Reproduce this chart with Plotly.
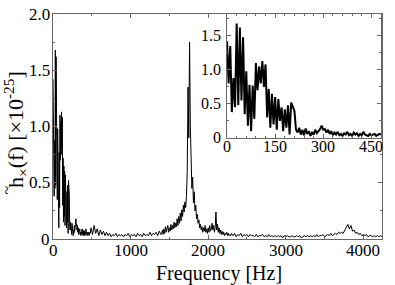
import plotly.graph_objects as go

# ---- inset spectrum, 0-480 Hz (5 Hz bins) ----
inset_freq = [i * 5 for i in range(97)]
inset_amp = [
    1.42, 0.80, 1.35, 0.38, 0.88, 0.45, 1.68, 0.48, 1.62, 0.55,
    1.48, 0.35, 0.98, 0.18, 0.78, 0.10, 0.77, 0.28, 1.10, 0.70,
    1.05, 0.80, 1.13, 0.75, 1.08, 0.30, 0.72, 0.15, 0.65, 0.20,
    0.60, 0.12, 0.57, 0.25, 0.45, 0.10, 0.42, 0.15, 0.48, 0.05,
    0.52, 0.45, 0.40, 0.12, 0.08, 0.15, 0.05, 0.12, 0.04, 0.14,
    0.06, 0.10, 0.03, 0.08, 0.05, 0.12, 0.07, 0.10, 0.13, 0.18,
    0.12, 0.13, 0.08, 0.12, 0.06, 0.10, 0.04, 0.08, 0.05, 0.09,
    0.04, 0.06, 0.03, 0.07, 0.05, 0.09, 0.04, 0.06, 0.03, 0.08,
    0.05, 0.07, 0.03, 0.06, 0.04, 0.09, 0.05, 0.04, 0.03, 0.06,
    0.04, 0.05, 0.06, 0.03, 0.05, 0.06, 0.05,
]

# ---- main spectrum beyond 480 Hz ----
freq_a = [490 + 20 * i for i in range(46)]
amp_a = [
    0.10, 0.04, 0.12, 0.05, 0.09, 0.03, 0.08, 0.04, 0.07, 0.03, 0.06,
    0.03, 0.05, 0.02, 0.04, 0.03, 0.05, 0.02, 0.04, 0.03, 0.04,
    0.02, 0.04, 0.03, 0.05, 0.02, 0.04, 0.03, 0.04, 0.02, 0.05,
    0.03, 0.04, 0.02, 0.05, 0.03, 0.04, 0.03, 0.06, 0.03, 0.05,
    0.04, 0.06, 0.03, 0.07, 0.04,
]
freq_b = [1400 + 10 * i for i in range(91)]
amp_b = [
    0.05, 0.08, 0.04, 0.09, 0.05, 0.11, 0.06, 0.08, 0.12, 0.06,
    0.10, 0.07, 0.13, 0.08, 0.12, 0.09, 0.15, 0.10, 0.14, 0.11,
    0.18, 0.12, 0.20, 0.14, 0.23, 0.16, 0.26, 0.20, 0.30, 0.24,
    0.33, 0.28, 0.38, 0.60, 1.35, 0.90, 1.75, 1.00, 0.62, 0.45,
    0.55, 0.32, 0.42, 0.25, 0.30, 0.18, 0.22, 0.14, 0.17, 0.10,
    0.13, 0.08, 0.11, 0.06, 0.10, 0.07, 0.12, 0.06, 0.09, 0.05,
    0.10, 0.06, 0.12, 0.07, 0.09, 0.14, 0.08, 0.12, 0.06, 0.10,
    0.24, 0.08, 0.13, 0.06, 0.10, 0.05, 0.08, 0.04, 0.07, 0.04,
    0.06, 0.03, 0.05, 0.04, 0.06, 0.03, 0.05, 0.03, 0.04, 0.03,
    0.05,
]
freq_c = [2320 + 20 * i for i in range(97)]
amp_c = [
    0.03, 0.05, 0.02, 0.04, 0.03, 0.05, 0.02, 0.04, 0.03, 0.04,
    0.02, 0.04, 0.03, 0.03, 0.02, 0.04, 0.02, 0.03, 0.03, 0.04,
    0.02, 0.03, 0.02, 0.04, 0.02, 0.03, 0.02, 0.03, 0.02, 0.03,
    0.02, 0.03, 0.01, 0.03, 0.02, 0.03, 0.02, 0.02, 0.03, 0.02,
    0.02, 0.03, 0.02, 0.03, 0.01, 0.02, 0.03, 0.02, 0.03, 0.02,
    0.03, 0.02, 0.03, 0.02, 0.04, 0.02, 0.03, 0.03, 0.04, 0.02,
    0.03, 0.04, 0.03, 0.05, 0.03, 0.04, 0.05, 0.04, 0.06, 0.05,
    0.06, 0.05, 0.08, 0.10, 0.13, 0.09, 0.12, 0.07, 0.08, 0.05,
    0.06, 0.04, 0.05, 0.03, 0.04, 0.03, 0.04, 0.02, 0.03, 0.03,
    0.02, 0.03, 0.02, 0.03, 0.02, 0.03, 0.02,
]

main_freq = inset_freq + freq_a + freq_b + freq_c
main_amp = inset_amp + amp_a + amp_b + amp_c

main_xticks = [0, 1000, 2000, 3000, 4000]
main_xlabels = ["0", "1000", "2000", "3000", "4000"]
main_yticks = [0, 0.5, 1.0, 1.5, 2.0]
main_ylabels = ["0", "0.5", "1.0", "1.5", "2.0"]
inset_xticks = [0, 150, 300, 450]
inset_xlabels = ["0", "150", "300", "450"]
inset_yticks = [0, 0.5, 1.0, 1.5]
inset_ylabels = ["0", "0.5", "1.0", "1.5"]
x_title = "Frequency [Hz]"
y_title = "h<sub>\u00d7</sub>(f) [\u00d710<sup>-25</sup>]"

FONT = "Liberation Serif"
AX = "#666666"

fig = go.Figure()
fig.add_trace(go.Scatter(x=main_freq, y=main_amp, mode="lines",
                         line=dict(color="black", width=1),
                         xaxis="x", yaxis="y", showlegend=False))
fig.add_trace(go.Scatter(x=inset_freq, y=inset_amp, mode="lines",
                         line=dict(color="black", width=2),
                         xaxis="x2", yaxis="y2", showlegend=False))

common = dict(showline=True, linecolor=AX, linewidth=1, mirror="ticks",
              ticks="inside", tickcolor=AX, ticklen=4, showgrid=False,
              zeroline=False, automargin=False, showticklabels=False)

fig.update_layout(
    width=395, height=285,
    margin=dict(l=53, r=13, t=14, b=46),
    paper_bgcolor="white", plot_bgcolor="white",
    xaxis=dict(domain=[0, 1], range=[0, 4240], tickvals=main_xticks,
               minor=dict(dtick=500, ticks="inside", ticklen=2, tickcolor=AX),
               **common),
    yaxis=dict(domain=[0, 1], range=[0, 2.0], tickvals=main_yticks,
               minor=dict(dtick=0.25, ticks="inside", ticklen=2, tickcolor=AX),
               **common),
    xaxis2=dict(domain=[0.529, 0.997], range=[0, 480], tickvals=inset_xticks,
                anchor="y2",
                minor=dict(dtick=30, ticks="inside", ticklen=2, tickcolor=AX),
                **common),
    yaxis2=dict(domain=[0.449, 1.0], range=[0, 1.82], tickvals=inset_yticks,
                anchor="x2",
                minor=dict(dtick=0.25, ticks="inside", ticklen=2, tickcolor=AX),
                **common),
)


def label(**kw):
    size = kw.pop("size")
    fig.add_annotation(showarrow=False, font=dict(family=FONT, size=size, color="black"), **kw)


for v, t in zip(main_xticks, main_xlabels):
    label(x=v, xref="x", y=0, yref="paper", yanchor="top", xanchor="center",
          text=t, size=17, yshift=0)
for v, t in zip(main_yticks, main_ylabels):
    label(x=0, xref="paper", y=v, yref="y", xanchor="right", yanchor="middle",
          text=t, size=17, xshift=-1)
for v, t in zip(inset_xticks, inset_xlabels):
    label(x=v, xref="x2", y=0, yref="y2", yanchor="top", xanchor="center",
          text=t, size=16, yshift=2)
for v, t in zip(inset_yticks, inset_ylabels):
    label(x=0, xref="x2", y=v, yref="y2", xanchor="right", yanchor="middle",
          text=t, size=16, xshift=-4)
label(x=0.505, xref="paper", y=-0.153, yref="paper", xanchor="center", yanchor="middle",
      text=x_title, size=20)
label(x=-0.1125, xref="paper", y=0.489, yref="paper", xanchor="center", yanchor="middle",
      text=y_title, size=22, textangle=-90)
# tilde accent over the h of the y title
label(x=-0.14, xref="paper", y=0.22, yref="paper", xanchor="center", yanchor="middle",
      text="~", size=16, textangle=-90)

fig.write_html("out.html", post_script="document.body.style.margin='0';",
               config={"displayModeBar": False})
